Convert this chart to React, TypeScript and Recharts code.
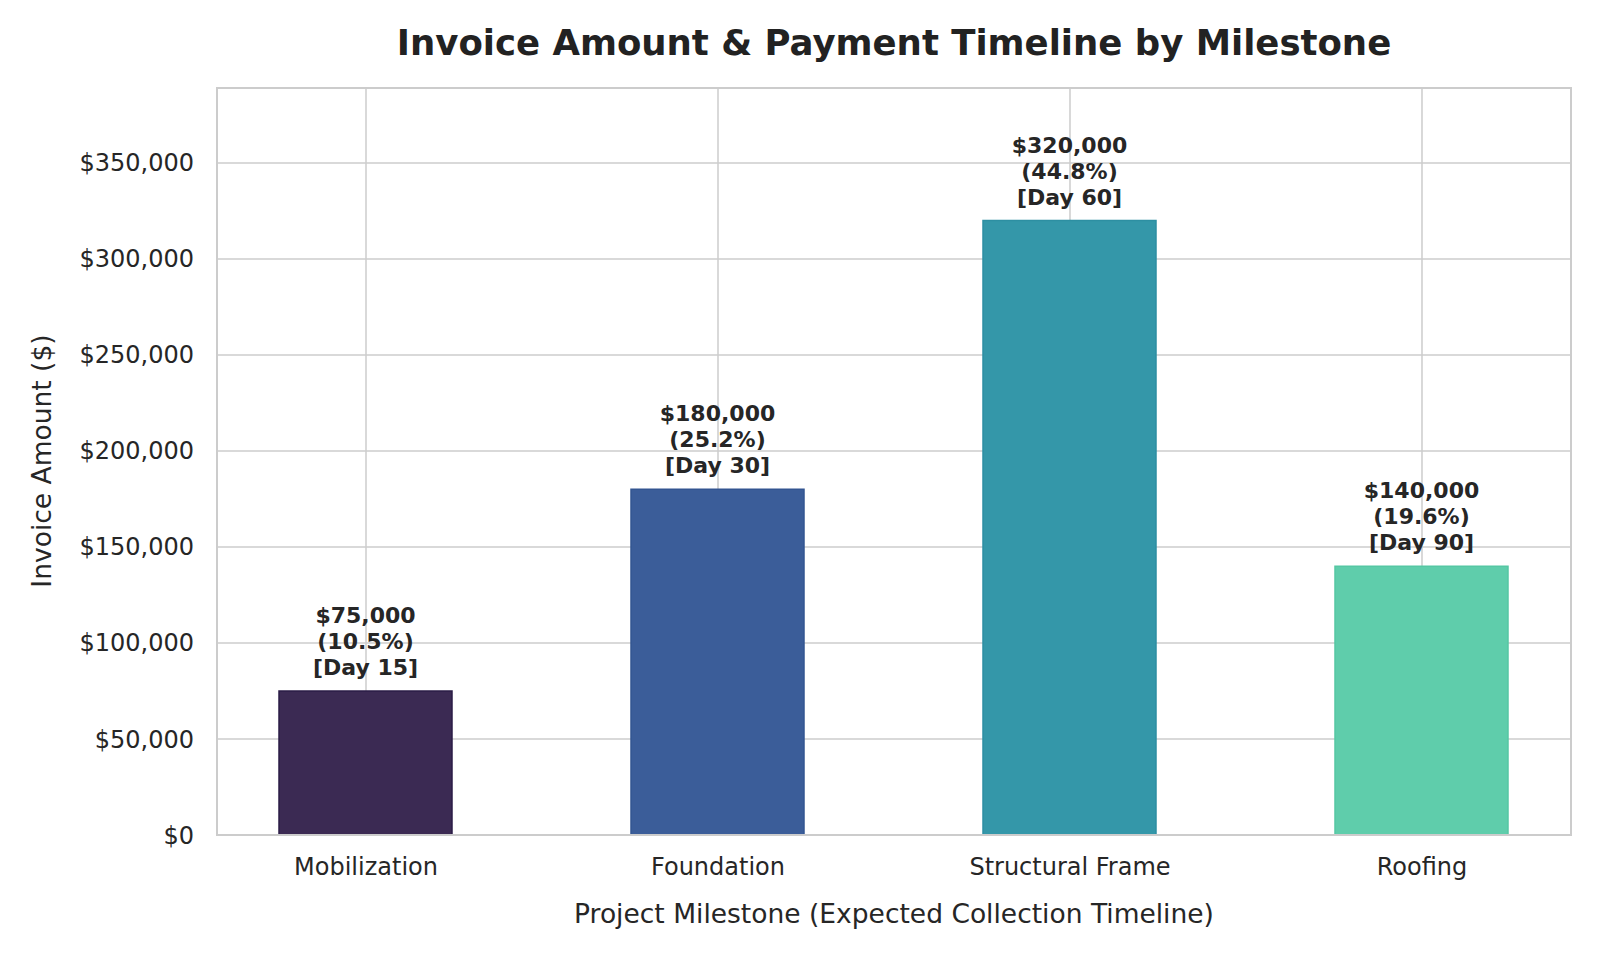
import { Bar, BarChart, CartesianGrid, Cell, LabelList, ReferenceArea, XAxis, YAxis } from "recharts"

const milestones = ["Mobilization", "Foundation", "Structural Frame", "Roofing"]
const amounts = [75000, 180000, 320000, 140000]
const shares = ["10.5%", "25.2%", "44.8%", "19.6%"]
const paymentDays = [15, 30, 60, 90]
const yTicks = [0, 50000, 100000, 150000, 200000, 250000, 300000, 350000]

const fills = ["#3b2a53", "#3b5d99", "#3497a9", "#5fcdab"]
const edges = ["#2b1c47", "#335591", "#2d8fa2", "#55c7a3"]

const font = "'DejaVu Sans', sans-serif"
const ink = "#262626"
const gridColor = "#cccccc"

const X_MIN = -0.4233
const X_MAX = 3.4233
const Y_MAX = 389000

const data = milestones.map((name, i) => ({
  pos: i,
  name,
  amount: amounts[i],
  share: shares[i],
  day: paymentDays[i],
}))

const money = (v: number) => "$" + v.toLocaleString("en-US")

// three stacked bold lines just above each bar
const BarLabel = (props: any) => {
  const { x, y, width, index } = props
  const d = data[index]
  const cx = x + width / 2
  const base = y - 16
  return (
    <text
      x={cx}
      y={base}
      textAnchor="middle"
      fontFamily={font}
      fontWeight="bold"
      fontSize={22}
      fill={ink}
    >
      <tspan x={cx} y={base - 52}>{money(d.amount)}</tspan>
      <tspan x={cx} y={base - 26}>({d.share})</tspan>
      <tspan x={cx} y={base}>[Day {d.day}]</tspan>
    </text>
  )
}

export default function App() {
  return (
    <div style={{ position: "absolute", left: 0, top: 0, width: 1600, height: 960, background: "#fff" }}>
      <svg width={1600} height={960} style={{ position: "absolute", left: 0, top: 0 }}>
        <text
          x={894}
          y={55}
          textAnchor="middle"
          fontFamily={font}
          fontWeight="bold"
          fontSize={35.5}
          fill="#222222"
        >
          Invoice Amount &amp; Payment Timeline by Milestone
        </text>
        <text
          x={894}
          y={923}
          textAnchor="middle"
          fontFamily={font}
          fontSize={26.5}
          fill={ink}
        >
          Project Milestone (Expected Collection Timeline)
        </text>
        <text
          x={51}
          y={461}
          textAnchor="middle"
          fontFamily={font}
          fontSize={26.5}
          fill={ink}
          transform="rotate(-90 51 461)"
        >
          Invoice Amount ($)
        </text>
      </svg>
      <div style={{ position: "absolute", left: 0, top: 0 }}>
        <BarChart
          width={1600}
          height={960}
          data={data}
          margin={{ top: 88, right: 29, bottom: 65, left: 97 }}
        >
          <CartesianGrid stroke={gridColor} strokeWidth={1.5} />
          <XAxis
            dataKey="pos"
            type="number"
            domain={[X_MIN, X_MAX]}
            ticks={[0, 1, 2, 3]}
            tickFormatter={(v: number) => milestones[v] ?? ""}
            allowDataOverflow
            height={60}
            tickLine={false}
            tickSize={0}
            tickMargin={23}
            axisLine={{ stroke: gridColor, strokeWidth: 2 }}
            tick={{ fill: ink, fontSize: 24, fontFamily: font }}
          />
          <YAxis
            type="number"
            domain={[0, Y_MAX]}
            ticks={yTicks}
            tickFormatter={money}
            allowDataOverflow
            width={120}
            tickLine={false}
            tickSize={0}
            tickMargin={23}
            axisLine={{ stroke: gridColor, strokeWidth: 2 }}
            tick={{ fill: ink, fontSize: 24, fontFamily: font }}
          />
          <ReferenceArea
            x1={X_MIN}
            x2={X_MAX}
            y1={0}
            y2={Y_MAX}
            fill="none"
            stroke={gridColor}
            strokeWidth={2}
            ifOverflow="visible"
          />
          <Bar dataKey="amount" barSize={173} isAnimationActive={false}>
            {data.map((d, i) => (
              <Cell key={d.name} fill={fills[i]} stroke={edges[i]} strokeWidth={1.5} />
            ))}
            <LabelList dataKey="amount" content={BarLabel} />
          </Bar>
        </BarChart>
      </div>
    </div>
  )
}
